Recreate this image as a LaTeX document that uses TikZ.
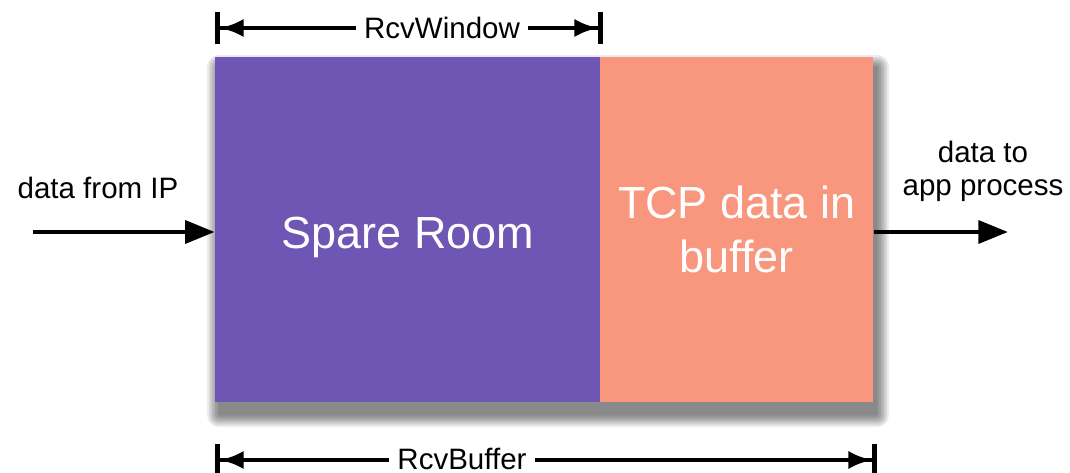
\documentclass[tikz,border=0pt]{standalone}
\usepackage{fontspec}
\setmainfont{Liberation Sans}
\usepackage{tikz}
\usetikzlibrary{arrows.meta}
\definecolor{spare}{RGB}{111,85,180}
\definecolor{salmon}{RGB}{249,150,126}
\tikzset{
	block/.style={inner sep=0pt, minimum height=8.625cm, text=white, align=center, font=\fontsize{32}{39}\selectfont},
	flow/.style={line width=3.4pt, -{Triangle[length=21pt, width=16pt]}},
	span/.style={line width=3.4pt, {Bar[width=23pt]Latex[length=17pt, width=13pt]}-{Latex[length=17pt, width=13pt]Bar[width=23pt]}},
	txt/.style={font=\fontsize{21}{23.4}\selectfont, align=center},
	haze/.style={fill=black, opacity=0.075}
}

\begin{document}
\begin{tikzpicture}
	\useasboundingbox (0,0) rectangle (26.75,11.8);
	% soft shadow behind the buffer
	\foreach \i in {1,...,8}
		\fill[haze, rounded corners=\i pt] (5.5-\i*0.04, 1.45-\i*0.04) rectangle (21.9+\i*0.04, 10.1+\i*0.04);
	\node[block, fill=spare, minimum width=9.65cm, text height=1.2cm](room) at (10.2, 6.0625){Spare Room};
	\node[block, fill=salmon, minimum width=6.825cm, anchor=west](buf) at (15.0, 6.0625){TCP data in\\buffer};

	% incoming and outgoing data
	\coordinate (in) at (0.825, 6.0);
	\coordinate (out) at (25.2, 6.0);
	\draw[flow](in) -- (in -| room.west);
	\draw[flow](out -| buf.east) -- (out);
	\node[txt](from) at (2.45, 7.1){data from IP};
	\node[txt](to) at (24.575, 7.525){data to\\app process};

	% window and buffer sizes
	\coordinate (w1) at (5.375, 11.1);
	\coordinate (w2) at (15.075, 11.1);
	\coordinate (b1) at (5.375, 0.3);
	\coordinate (b2) at (21.925, 0.3);
	\draw[span](w1) -- (w2);
	\draw[span](b1) -- (b2);
	\node[txt, fill=white, inner xsep=6pt, inner ysep=0pt](win) at (11.05, 11.1){RcvWindow};
	\node[txt, fill=white, inner xsep=6pt, inner ysep=0pt](rbuf) at (11.55, 0.33){RcvBuffer};
\end{tikzpicture}
\end{document}
